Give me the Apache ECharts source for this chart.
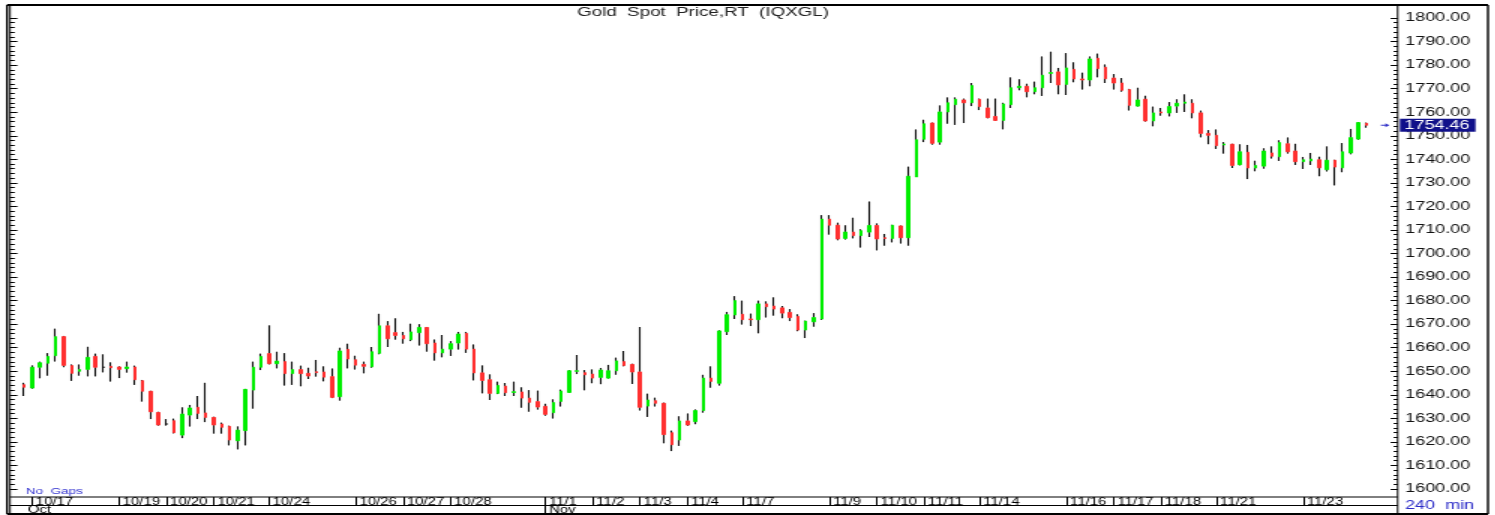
<!DOCTYPE html>
<html>
<head>
<meta charset="utf-8">
<title>Gold Spot Price,RT (IQXGL)</title>
<script src="https://cdn.jsdelivr.net/npm/echarts@6/dist/echarts.min.js"></script>
<style>
  html, body { margin: 0; padding: 0; background: #fff; overflow: hidden; }
  #wrap { width: 1495px; height: 515px; overflow: hidden; }
  /* the source screenshot is stretched sideways, so draw narrow and widen */
  #chart { width: 997px; height: 515px; transform: scaleX(1.5); transform-origin: 0 0; }
</style>
</head>
<body>
<div id="wrap"><div id="chart"></div></div>
<script>
// 240 min bars, oldest first
const opens = [
  1644.3, 1642.9, 1651.7, 1653.4, 1656.6, 1664.7, 1652.4, 1650.0, 1650.8, 1656.3,
  1651.7, 1652.1, 1651.8, 1651.1, 1651.8, 1646.0, 1641.5, 1632.5, 1627.6, 1629.0,
  1622.9, 1631.4, 1634.7, 1632.3, 1630.4, 1627.6, 1626.6, 1620.5, 1624.8, 1642.0,
  1651.7, 1657.5, 1653.2, 1654.1, 1649.0, 1650.7, 1649.1, 1649.8, 1649.7, 1647.7,
  1639.2, 1659.3, 1654.9, 1652.9, 1651.9, 1657.6, 1669.3, 1666.4, 1665.2, 1663.4,
  1666.4, 1668.6, 1662.0, 1657.8, 1659.4, 1662.0, 1666.1, 1659.4, 1649.3, 1646.4,
  1640.6, 1643.7, 1641.0, 1641.2, 1638.6, 1637.1, 1635.1, 1632.4, 1637.2, 1641.0,
  1650.0, 1649.4, 1648.8, 1647.4, 1647.1, 1650.2, 1654.1, 1652.9, 1649.7, 1635.2,
  1637.5, 1636.4, 1623.9, 1620.8, 1628.9, 1628.6, 1633.3, 1647.1, 1644.9, 1666.8,
  1673.9, 1674.2, 1672.2, 1671.9, 1678.6, 1677.7, 1676.9, 1675.0, 1673.3, 1667.5,
  1671.0, 1672.2, 1714.6, 1712.0, 1706.4, 1709.1, 1707.6, 1709.1, 1711.9, 1706.7,
  1706.4, 1711.7, 1706.7, 1732.5, 1748.5, 1755.4, 1747.3, 1760.1, 1763.2, 1765.2,
  1764.0, 1765.5, 1761.8, 1758.2, 1756.5, 1763.2, 1770.4, 1771.0, 1768.7, 1770.4,
  1776.5, 1777.1, 1771.8, 1778.2, 1774.1, 1773.7, 1782.9, 1779.1, 1774.5, 1772.4,
  1769.6, 1762.6, 1765.5, 1756.3, 1760.1, 1759.7, 1762.6, 1763.8, 1763.8, 1759.7,
  1751.0, 1750.2, 1746.1, 1746.4, 1737.7, 1743.0, 1736.3, 1737.1, 1742.7, 1741.1,
  1746.6, 1743.5, 1739.0, 1739.3, 1739.8, 1735.6, 1739.6, 1736.4, 1742.7, 1748.6,
  1755.3
]
const closes = [
  1643.2, 1651.7, 1653.6, 1656.3, 1664.7, 1652.5, 1649.1, 1650.7, 1655.9, 1651.7,
  1651.7, 1651.5, 1650.8, 1651.8, 1646.4, 1641.5, 1632.8, 1627.2, 1627.6, 1623.9,
  1631.8, 1634.4, 1632.1, 1630.4, 1627.2, 1626.2, 1620.8, 1625.0, 1642.3, 1651.7,
  1656.3, 1653.2, 1654.3, 1649.0, 1650.7, 1649.0, 1648.0, 1649.4, 1647.5, 1638.9,
  1658.6, 1655.2, 1652.6, 1652.1, 1658.3, 1669.3, 1663.8, 1665.2, 1663.8, 1666.7,
  1668.6, 1661.7, 1657.8, 1659.4, 1661.7, 1665.8, 1659.4, 1649.3, 1646.1, 1640.6,
  1644.0, 1640.9, 1641.3, 1638.6, 1636.8, 1634.8, 1631.7, 1636.7, 1641.6, 1650.2,
  1650.2, 1648.5, 1647.1, 1650.5, 1650.2, 1654.4, 1652.4, 1649.7, 1634.7, 1637.8,
  1636.4, 1623.1, 1618.8, 1628.9, 1627.2, 1633.3, 1647.1, 1645.7, 1667.1, 1674.0,
  1680.0, 1671.9, 1671.9, 1678.6, 1677.4, 1676.4, 1674.7, 1672.8, 1667.5, 1671.3,
  1672.8, 1714.6, 1712.0, 1706.2, 1709.1, 1707.6, 1709.7, 1711.9, 1706.2, 1706.4,
  1712.0, 1706.7, 1732.8, 1748.3, 1755.1, 1746.8, 1760.1, 1764.0, 1765.5, 1764.0,
  1771.3, 1762.4, 1757.7, 1756.5, 1763.5, 1770.4, 1771.0, 1768.7, 1770.4, 1775.7,
  1776.8, 1771.6, 1778.8, 1774.1, 1773.7, 1782.6, 1778.5, 1774.2, 1772.4, 1769.3,
  1762.9, 1765.2, 1756.3, 1759.7, 1759.7, 1762.4, 1763.8, 1764.3, 1759.7, 1751.0,
  1750.2, 1745.8, 1746.5, 1737.4, 1743.2, 1736.3, 1737.4, 1743.5, 1741.3, 1747.1,
  1743.2, 1739.0, 1739.8, 1740.1, 1736.4, 1739.6, 1736.7, 1743.2, 1749.2, 1755.6,
  1754.46
]
const lows = [
  1639.5, 1642.6, 1647.0, 1648.1, 1654.1, 1651.7, 1645.9, 1648.1, 1647.8, 1647.8,
  1649.5, 1645.6, 1647.1, 1649.4, 1644.2, 1637.1, 1629.7, 1626.9, 1626.9, 1623.6,
  1621.6, 1626.5, 1629.7, 1628.4, 1623.5, 1623.5, 1618.5, 1616.8, 1618.5, 1634.1,
  1650.5, 1652.9, 1651.2, 1643.9, 1644.2, 1643.6, 1646.7, 1647.7, 1645.7, 1638.6,
  1637.5, 1651.2, 1650.7, 1649.1, 1651.5, 1657.2, 1660.3, 1663.4, 1661.7, 1662.8,
  1660.9, 1658.3, 1654.5, 1655.9, 1656.5, 1659.2, 1657.8, 1646.1, 1640.6, 1637.8,
  1640.3, 1639.5, 1639.5, 1634.5, 1632.8, 1633.7, 1631.1, 1629.9, 1635.0, 1640.8,
  1648.8, 1641.9, 1644.9, 1644.5, 1646.9, 1648.5, 1652.1, 1644.6, 1633.3, 1630.6,
  1635.0, 1619.4, 1616.1, 1618.3, 1626.8, 1627.5, 1632.4, 1643.0, 1643.9, 1665.4,
  1672.2, 1669.8, 1669.2, 1666.1, 1672.8, 1673.6, 1672.5, 1671.3, 1667.0, 1664.1,
  1668.9, 1671.8, 1708.0, 1705.6, 1705.9, 1706.4, 1702.5, 1707.0, 1701.3, 1703.3,
  1704.7, 1704.2, 1703.3, 1732.5, 1747.3, 1746.2, 1746.2, 1755.1, 1754.6, 1755.4,
  1762.6, 1760.9, 1757.4, 1756.3, 1752.7, 1761.8, 1769.3, 1766.3, 1767.6, 1766.9,
  1772.4, 1767.6, 1767.3, 1772.7, 1769.6, 1771.0, 1774.8, 1772.4, 1769.6, 1768.7,
  1760.7, 1762.4, 1756.0, 1754.0, 1758.5, 1758.2, 1759.7, 1760.1, 1757.4, 1749.3,
  1746.4, 1744.4, 1742.4, 1736.3, 1737.4, 1731.6, 1734.9, 1736.0, 1740.3, 1739.3,
  1742.4, 1737.6, 1735.9, 1737.6, 1732.8, 1734.8, 1728.9, 1734.5, 1742.1, 1748.3,
  1753.4
]
const highs = [
  1645.1, 1652.5, 1654.1, 1657.7, 1668.1, 1665.0, 1652.9, 1652.9, 1660.4, 1657.5,
  1657.2, 1653.8, 1652.1, 1654.1, 1652.4, 1646.3, 1641.7, 1632.8, 1629.7, 1629.9,
  1634.7, 1635.7, 1639.5, 1645.1, 1630.7, 1628.2, 1626.9, 1626.6, 1642.5, 1654.1,
  1657.5, 1669.5, 1658.3, 1657.7, 1654.1, 1652.4, 1651.5, 1654.8, 1652.1, 1651.2,
  1660.0, 1661.7, 1656.6, 1654.1, 1660.3, 1674.4, 1671.3, 1672.5, 1666.7, 1670.2,
  1670.0, 1668.8, 1663.5, 1665.4, 1662.8, 1666.7, 1666.7, 1661.4, 1652.5, 1648.7,
  1645.6, 1645.0, 1645.6, 1643.2, 1642.0, 1641.8, 1636.2, 1638.1, 1642.2, 1650.5,
  1656.9, 1650.5, 1650.8, 1651.4, 1652.7, 1655.8, 1658.6, 1653.2, 1668.8, 1640.5,
  1638.8, 1636.7, 1624.8, 1630.9, 1632.1, 1633.8, 1648.5, 1652.1, 1667.4, 1675.2,
  1681.9, 1680.0, 1674.5, 1680.0, 1679.7, 1681.4, 1677.7, 1676.4, 1674.2, 1671.5,
  1674.7, 1716.3, 1716.3, 1713.1, 1712.0, 1715.2, 1710.3, 1722.1, 1712.8, 1708.3,
  1712.2, 1711.9, 1736.9, 1752.7, 1756.8, 1755.6, 1762.9, 1766.3, 1766.3, 1765.8,
  1772.4, 1765.8, 1765.8, 1765.8, 1764.0, 1774.8, 1774.0, 1772.1, 1773.0, 1783.7,
  1785.7, 1778.8, 1785.1, 1781.2, 1776.8, 1783.7, 1784.9, 1780.3, 1776.2, 1774.5,
  1769.9, 1770.4, 1767.0, 1762.4, 1761.8, 1764.3, 1765.5, 1767.6, 1765.5, 1760.7,
  1752.4, 1752.7, 1747.3, 1746.6, 1746.4, 1746.1, 1739.4, 1744.7, 1745.5, 1748.1,
  1749.3, 1746.6, 1741.0, 1742.7, 1741.1, 1745.5, 1739.8, 1746.9, 1752.9, 1755.8,
  1755.6
]

// date row: label and the bar its separator sits on
const dayLabels = ['10/17', '10/19', '10/20', '10/21', '10/24', '10/26', '10/27', '10/28',
  '11/1', '11/2', '11/3', '11/4', '11/7', '11/9', '11/10', '11/11', '11/14',
  '11/16', '11/17', '11/18', '11/21', '11/23']
const dayStarts = [1, 12, 18, 24, 31, 42, 48, 54, 66, 72, 78, 84, 91, 102, 108, 114, 121, 132, 138, 144, 151, 162]
const monthLabels = ['Oct', 'Nov']
const monthStarts = [0, 66]

const yMin = 1600
const yMax = 1800
const yStep = 10

const lastPrice = closes[closes.length - 1]

// one empty slot before the first bar, four after the last
const padBefore = 1
const padAfter = 4
const slotCount = padBefore + opens.length + padAfter

const slotNames = []
for (let i = 0; i < slotCount; i++) slotNames.push(String(i))

const dayAt = {}
dayStarts.forEach((b, k) => { dayAt[b + padBefore] = dayLabels[k] })
const monthAt = {}
monthStarts.forEach((b, k) => { monthAt[b + padBefore] = monthLabels[k] })

const green = '#00ee00'
const red = '#ff3030'

const bodyData = []
const wickData = []
for (let s = 0; s < slotCount; s++) {
  const i = s - padBefore
  if (i < 0 || i >= opens.length) {
    bodyData.push('-')
    wickData.push('-')
    continue
  }
  const o = opens[i]
  const c = closes[i]
  const item = { value: [o, c, Math.min(o, c), Math.max(o, c)] }
  if (o === c) {
    // flat bar: plain black dash
    item.itemStyle = { color: '#000', color0: '#000', borderColor: '#000', borderColor0: '#000' }
  }
  bodyData.push(item)
  wickData.push([lows[i], highs[i], lows[i], highs[i]])
}

const font = 'Liberation Sans'

// frame, in the unstretched pixel space of the 997px wide chart
const frameL = 4.7
const frameR = 992
const frameT = 5
const frameB = 514
const plotL = 6.7
const axisR = 931.8
const dateRowT = 497
const monthRowT = 505.5

function hline(id, x1, x2, y, w) {
  return { id, type: 'line', silent: true, shape: { x1, y1: y, x2, y2: y }, style: { stroke: '#000', lineWidth: w || 1 } }
}
function vline(id, x, y1, y2, w) {
  return { id, type: 'line', silent: true, shape: { x1: x, y1, x2: x, y2 }, style: { stroke: '#000', lineWidth: w || 1 } }
}

const chart = echarts.init(document.getElementById('chart'))

chart.setOption({
  animation: false,
  backgroundColor: '#fff',
  grid: {
    left: 8.3,
    right: 62.4,
    top: 18,
    bottom: 26,
    containLabel: false,
    outerBoundsMode: 'none'
  },
  xAxis: [{
    type: 'category',
    data: slotNames,
    boundaryGap: true,
    position: 'bottom',
    offset: dateRowT - 489,
    axisLine: { show: false },
    axisTick: {
      show: true,
      alignWithLabel: true,
      length: monthRowT - dateRowT,
      interval: (idx) => dayAt[idx] !== undefined,
      lineStyle: { color: '#000' }
    },
    axisLabel: {
      interval: (idx) => dayAt[idx] !== undefined,
      formatter: (v, idx) => dayAt[idx] || '',
      align: 'left',
      verticalAlign: 'top',
      padding: [0, 0, 0, 2.4],
      margin: 0,
      lineHeight: 10,
      fontSize: 10,
      fontFamily: font,
      color: '#000'
    },
    splitLine: { show: false }
  }, {
    type: 'category',
    data: slotNames,
    boundaryGap: true,
    position: 'bottom',
    offset: monthRowT - 489,
    axisLine: { show: false },
    axisTick: {
      show: true,
      alignWithLabel: true,
      length: frameB - monthRowT,
      interval: (idx) => monthAt[idx] !== undefined && idx > padBefore,
      lineStyle: { color: '#000' }
    },
    axisLabel: {
      interval: (idx) => monthAt[idx] !== undefined,
      formatter: (v, idx) => monthAt[idx] || '',
      align: 'left',
      verticalAlign: 'top',
      padding: [0, 0, 0, 2.4],
      margin: 0,
      lineHeight: 9,
      fontSize: 10,
      fontFamily: font,
      color: '#000'
    },
    splitLine: { show: false }
  }],
  yAxis: [{
    type: 'value',
    position: 'right',
    min: yMin,
    max: yMax,
    interval: yStep,
    offset: -2.8,
    axisLine: { show: false },
    axisTick: { show: true, inside: true, length: 4.7, lineStyle: { color: '#000' } },
    minorTick: { show: true, splitNumber: 5, length: 2.7, lineStyle: { color: '#000' } },
    splitLine: { show: false },
    minorSplitLine: { show: false },
    axisLabel: {
      margin: 5,
      formatter: (v) => v.toFixed(2),
      fontSize: 12,
      fontFamily: font,
      color: '#111'
    }
  }, {
    type: 'value',
    position: 'left',
    min: yMin,
    max: yMax,
    interval: yStep,
    offset: 1.6,
    axisLine: { show: false },
    axisTick: { show: true, inside: true, length: 4.9, lineStyle: { color: '#000' } },
    minorTick: { show: true, splitNumber: 5, length: 3.1, lineStyle: { color: '#000' } },
    splitLine: { show: false },
    minorSplitLine: { show: false },
    axisLabel: { show: false }
  }],
  series: [{
    // thin candles: ECharts draws them as a single high-low stroke
    name: 'range',
    type: 'candlestick',
    xAxisIndex: 0,
    yAxisIndex: 0,
    barWidth: 1,
    silent: true,
    itemStyle: { color: '#000', color0: '#000', borderColor: '#111', borderColor0: '#111', borderWidth: 1.1 },
    data: wickData
  }, {
    name: 'Gold Spot',
    type: 'candlestick',
    xAxisIndex: 0,
    yAxisIndex: 0,
    barWidth: 2,
    silent: true,
    itemStyle: { color: green, color0: red, borderColor: green, borderColor0: red, borderWidth: 1 },
    data: bodyData,
    markLine: {
      silent: true,
      symbol: ['none', 'none'],
      lineStyle: { color: 'rgba(0,0,0,0)', width: 1 },
      data: [{ yAxis: lastPrice }],
      label: {
        show: true,
        position: 'end',
        distance: -1.3,
        formatter: () => lastPrice.toFixed(2),
        color: '#fff',
        backgroundColor: '#10108a',
        padding: [1, 4, 0, 3],
        lineHeight: 12,
        fontSize: 12,
        fontFamily: font,
        opacity: 1
      }
    }
  }],
  graphic: {
    elements: [
      hline('top', frameL, frameR, frameT, 2),
      hline('bottom', frameL, frameR, frameB, 2),
      vline('left', frameL, frameT, frameB, 1.4),
      vline('right', frameR, frameT, frameB, 1.4),
      vline('plotLeft', plotL, frameT, frameB, 1),
      vline('axisRight', axisR, frameT, frameB, 1),
      hline('dateTop', plotL, axisR, dateRowT, 1),
      hline('monthTop', plotL, axisR, monthRowT, 1),
      {
        id: 'title', type: 'text', silent: true, x: 468.7, y: 12.5,
        style: { text: 'Gold  Spot  Price,RT  (IQXGL)', align: 'center', verticalAlign: 'middle', fontSize: 12.5, fontFamily: font, fill: '#222' }
      },
      {
        id: 'gaps', type: 'text', silent: true, x: 17.3, y: 492,
        style: { text: 'No  Gaps', align: 'left', verticalAlign: 'middle', fontSize: 9, fontFamily: font, fill: '#3434d0' }
      },
      {
        id: 'period', type: 'text', silent: true, x: 936.7, y: 505.5,
        style: { text: '240  min', align: 'left', verticalAlign: 'middle', fontSize: 12, fontFamily: font, fill: '#2b2bc8' }
      }
    ]
  }
})

// small pointer to the last price, just inside the plot
const py = chart.convertToPixel({ yAxisIndex: 0 }, lastPrice)
chart.setOption({
  graphic: {
    elements: [{
      id: 'arrowShaft', type: 'line', silent: true,
      shape: { x1: 920.6, y1: py, x2: 925.2, y2: py },
      style: { stroke: '#3030c8', lineWidth: 1 }
    }, {
      id: 'arrowHead', type: 'polygon', silent: true,
      shape: { points: [[926.2, py], [923.6, py - 2], [923.6, py + 2]] },
      style: { fill: '#3030c8' }
    }]
  }
})
</script>
</body>
</html>
